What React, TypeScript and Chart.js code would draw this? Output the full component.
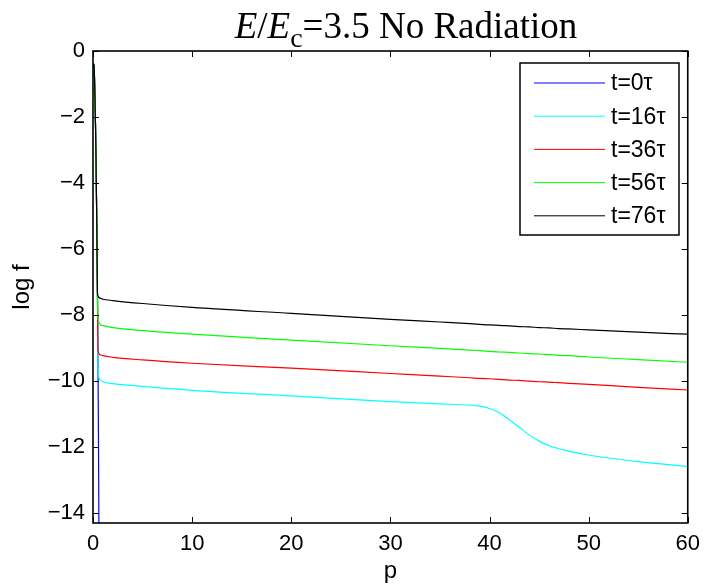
import React, { useEffect, useRef } from 'react';
import { Chart, registerables } from 'chart.js';

Chart.register(...registerables);

// momentum grid (shared by all series)
const P = [0, 0.05, 0.1, 0.15, 0.2, 0.25, 0.3, 0.35, 0.4, 0.45, 0.5, 0.55, 0.6, 0.8, 1, 2, 5, 10, 20, 30, 35, 38, 39, 40, 41, 42, 43, 44, 45, 46, 47, 48, 50, 55, 60];

const F_T0 = [-0.5, -0.4, -0.42, -0.8, -1.4, -2.2, -3.2, -4.4, -5.8, -7.4, -9.3, -11.6, -14.8, null, null, null, null, null, null, null, null, null, null, null, null, null, null, null, null, null, null, null, null, null, null];
const F_T16 = [-0.5, -0.4, -0.42, -0.8, -1.4, -2.2, -3.2, -4.4, -5.8, -7.4, -9.3, -9.8, -9.9, -9.98, -10.02, -10.08, -10.16, -10.28, -10.45, -10.62, -10.69, -10.73, -10.76, -10.83, -10.96, -11.17, -11.4, -11.63, -11.82, -11.96, -12.05, -12.12, -12.24, -12.44, -12.59];
const F_T36 = [-0.5, -0.4, -0.42, -0.8, -1.4, -2.2, -3.2, -4.4, -5.8, -7.4, -9.0, -9.12, -9.17, -9.21, -9.23, -9.28, -9.36, -9.46, -9.61, -9.77, -9.85, -9.9, -9.92, -9.93, -9.95, -9.97, -9.98, -10.0, -10.02, -10.03, -10.05, -10.07, -10.1, -10.19, -10.27];
const F_T56 = [-0.5, -0.4, -0.42, -0.8, -1.4, -2.2, -3.2, -4.4, -5.8, -7.4, -8.0, -8.15, -8.22, -8.3, -8.32, -8.38, -8.47, -8.58, -8.76, -8.93, -9.01, -9.06, -9.08, -9.1, -9.12, -9.13, -9.15, -9.17, -9.18, -9.2, -9.22, -9.23, -9.27, -9.35, -9.43];
const F_T76 = [-0.5, -0.4, -0.42, -0.8, -1.4, -2.2, -3.2, -4.4, -5.8, -7.3, -7.42, -7.45, -7.47, -7.5, -7.52, -7.56, -7.65, -7.77, -7.95, -8.13, -8.21, -8.26, -8.28, -8.3, -8.31, -8.33, -8.35, -8.36, -8.38, -8.39, -8.41, -8.42, -8.45, -8.52, -8.58];

const SERIES = [F_T0, F_T16, F_T36, F_T56, F_T76];
const LABELS = ['t=0τ', 't=16τ', 't=36τ', 't=56τ', 't=76τ'];
const COLORS = ['#0000ff', '#00ffff', '#ff0000', '#00ff00', '#000000'];

const X_TICKS = [0, 10, 20, 30, 40, 50, 60];
const Y_TICKS = [-14, -12, -10, -8, -6, -4, -2, 0];
const X_MIN = 0;
const X_MAX = 60;
const Y_MIN = -14.3;
const Y_MAX = 0;

const SANS = '"Liberation Sans", Arial, Helvetica, sans-serif';
const SERIF = '"Liberation Serif", "Times New Roman", serif';

const fmt = (v: number) => (v < 0 ? '\u2212' + Math.abs(v) : String(v));

const framePlugin = {
  id: 'matlabFrame',
  afterDatasetsDraw(chart: any) {
    const { ctx, chartArea: a, scales } = chart;
    const xs = scales.x;
    const ys = scales.y;
    ctx.save();
    // legend
    const lx0 = 520, ly0 = 63, lx1 = 679, ly1 = 235;
    ctx.fillStyle = '#ffffff';
    ctx.fillRect(lx0, ly0, lx1 - lx0, ly1 - ly0);
    ctx.strokeStyle = '#000000';
    ctx.lineWidth = 1.5;
    ctx.strokeRect(lx0, ly0, lx1 - lx0, ly1 - ly0);
    ctx.font = '23px ' + SANS;
    ctx.textBaseline = 'middle';
    ctx.textAlign = 'left';
    chart.data.datasets.forEach((ds: any, i: number) => {
      const y = 83 + i * 33.2;
      ctx.strokeStyle = ds.borderColor;
      ctx.lineWidth = 1;
      ctx.beginPath();
      ctx.moveTo(534, y);
      ctx.lineTo(605, y);
      ctx.stroke();
      ctx.fillStyle = '#000000';
      ctx.fillText(ds.label, 611, y + 1);
    });
    // ticks (inward, mirrored)
    ctx.strokeStyle = '#000000';
    ctx.lineWidth = 1;
    const tl = 6;
    ctx.beginPath();
    X_TICKS.forEach((v) => {
      const px = Math.round(xs.getPixelForValue(v)) + 0.5;
      ctx.moveTo(px, a.bottom);
      ctx.lineTo(px, a.bottom - tl);
      ctx.moveTo(px, a.top);
      ctx.lineTo(px, a.top + tl);
    });
    Y_TICKS.forEach((v) => {
      const py = Math.round(ys.getPixelForValue(v)) + 0.5;
      ctx.moveTo(a.left, py);
      ctx.lineTo(a.left + tl, py);
      ctx.moveTo(a.right, py);
      ctx.lineTo(a.right - tl, py);
    });
    ctx.stroke();
    // box
    ctx.lineWidth = 1.6;
    ctx.strokeRect(a.left, a.top, a.right - a.left, a.bottom - a.top);
    ctx.restore();
  },
  afterDraw(chart: any) {
    const { ctx } = chart;
    ctx.save();
    ctx.fillStyle = '#000000';
    ctx.textBaseline = 'alphabetic';
    ctx.textAlign = 'left';
    const base = 38;
    const parts: [string, string, number][] = [
      ['E', 'italic 37px ' + SERIF, 0],
      ['/', '37px ' + SERIF, 0],
      ['E', 'italic 37px ' + SERIF, 0],
      ['c', '28px ' + SERIF, 9],
      ['=3.5 No Radiation', '37px ' + SERIF, 0],
    ];
    let total = 0;
    parts.forEach(([t, f]) => {
      ctx.font = f;
      total += ctx.measureText(t).width;
    });
    let x = 406 - total / 2;
    parts.forEach(([t, f, dy]) => {
      ctx.font = f;
      ctx.fillText(t, x, base + dy);
      x += ctx.measureText(t).width;
    });
    ctx.restore();
  },
};

export default function App() {
  const ref = useRef<HTMLCanvasElement | null>(null);

  useEffect(() => {
    if (!ref.current) return;
    const datasets = SERIES.map((arr, i) => ({
      label: LABELS[i],
      data: P.map((p, j) => ({ x: p, y: arr[j] })).filter((d) => d.y !== null),
      borderColor: COLORS[i],
      backgroundColor: COLORS[i],
      borderWidth: 1.2,
      pointRadius: 0,
      fill: false,
      cubicInterpolationMode: 'monotone' as const,
      order: SERIES.length - i,
    }));
    const chart = new Chart(ref.current, {
      type: 'line',
      data: { datasets },
      options: {
        animation: false,
        responsive: false,
        devicePixelRatio: 1,
        layout: { padding: { top: 51, right: 18, left: 0, bottom: 0 } },
        plugins: {
          legend: { display: false },
          title: { display: false },
          tooltip: { enabled: false },
        },
        scales: {
          x: {
            type: 'linear',
            min: X_MIN,
            max: X_MAX,
            grid: { display: false, drawTicks: false },
            border: { display: false },
            afterBuildTicks: (s: any) => {
              s.ticks = X_TICKS.map((v) => ({ value: v }));
            },
            afterFit: (s: any) => {
              s.height = 63;
            },
            ticks: {
              color: '#000000',
              font: { family: SANS, size: 22 },
              padding: 8,
              maxRotation: 0,
              callback: (v: any) => fmt(Number(v)),
            },
            title: {
              display: true,
              text: 'p',
              color: '#000000',
              font: { family: SANS, size: 24 },
              padding: { top: 0, bottom: 0 },
            },
          },
          y: {
            type: 'linear',
            min: Y_MIN,
            max: Y_MAX,
            grid: { display: false, drawTicks: false },
            border: { display: false },
            afterBuildTicks: (s: any) => {
              s.ticks = Y_TICKS.map((v) => ({ value: v }));
            },
            afterFit: (s: any) => {
              s.width = 93;
            },
            ticks: {
              color: '#000000',
              font: { family: SANS, size: 22 },
              padding: 8,
              callback: (v: any) => fmt(Number(v)),
            },
            title: {
              display: true,
              text: 'log f',
              color: '#000000',
              font: { family: SANS, size: 24 },
              padding: { top: 8, bottom: 0 },
            },
          },
        },
      },
      plugins: [framePlugin],
    });
    return () => chart.destroy();
  }, []);

  return (
    <div style={{ position: 'absolute', left: 0, top: 0, width: 708, height: 586, background: '#ffffff' }}>
      <canvas ref={ref} width={708} height={586} style={{ display: 'block', width: 708, height: 586 }} />
    </div>
  );
}
